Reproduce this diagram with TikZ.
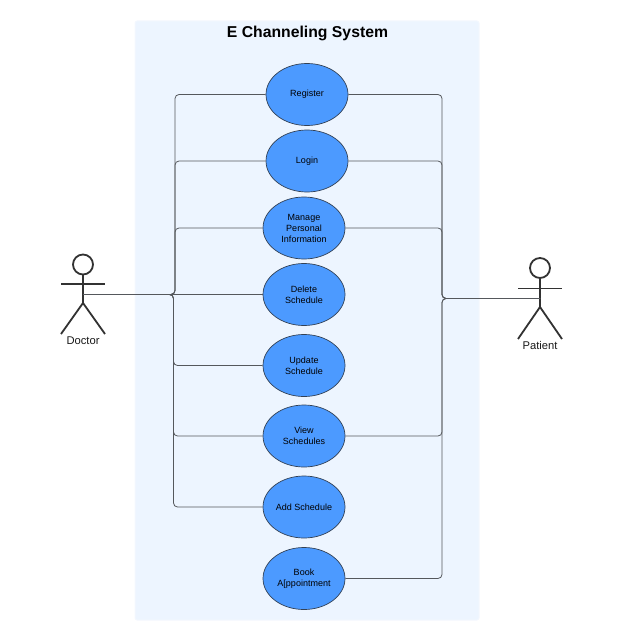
\documentclass[tikz,border=0pt]{standalone}
\usepackage{xcolor}
\usepackage{fontspec}
\usetikzlibrary{shapes.geometric}
\setmainfont{Liberation Sans}
\definecolor{panelblue}{RGB}{237,245,255}
\definecolor{paneledge}{RGB}{244,248,254}
\definecolor{caseblue}{RGB}{76,154,255}
\definecolor{caseedge}{RGB}{50,65,85}
\definecolor{linkgray}{RGB}{85,88,92}
\definecolor{stickgray}{RGB}{50,50,50}

\begin{document}
\begin{tikzpicture}[
    x=1pt, y=-1pt,
    every node/.style={font=\fontsize{9}{11}\selectfont},
    usecase/.style={draw=caseedge, fill=caseblue, ellipse, line width=0.7pt, inner sep=0pt, minimum width=82pt, minimum height=62pt, align=center},
    link/.style={draw=linkgray, line width=0.8pt, rounded corners=4pt},
    stick/.style={draw=stickgray, line width=1.8pt},
    actorname/.style={font=\fontsize{11.2}{13}\selectfont, text=black!90}
]
\useasboundingbox (0,0) rectangle (624,642);
\fill[panelblue, draw=paneledge, line width=1pt, rounded corners=2pt] (135,21) rectangle (479,620);
\node[font=\fontsize{15.75}{18}\selectfont\bfseries] (title) at (307.5,33) {E Channeling System};

\node[usecase] (register) at (307,94.5) {Register};
\node[usecase] (login) at (307,161) {Login};
\node[usecase] (manage) at (304,228) {Manage\\Personal\\Information};
\node[usecase] (delete) at (304,294.5) {Delete\\Schedule};
\node[usecase] (update) at (304,365.5) {Update\\Schedule};
\node[usecase] (view) at (304,436) {View\\Schedules};
\node[usecase] (add) at (304,507) {Add Schedule};
\node[usecase] (book) at (304,578.5) {Book\\A[ppointment};

% doctor
\node[stick, circle, minimum size=20pt, inner sep=0pt] (doctorhead) at (83,264.5) {};
\coordinate (doctorhip) at (83,303);
\coordinate (doctorhub) at (83,294.5);
\coordinate (doctorarml) at (61,284);
\coordinate (doctorarmr) at (105,284);
\coordinate (doctorfootl) at (61,334);
\coordinate (doctorfootr) at (105,334);
\draw[stick] (doctorhead) -- (doctorhip);
\draw[stick] (doctorarml) -- (doctorarmr);
\draw[stick] (doctorfootl) -- (doctorhip) -- (doctorfootr);
\node[actorname] (doctor) at (83,341) {Doctor};

% patient
\node[stick, circle, minimum size=20pt, inner sep=0pt] (patienthead) at (540,268) {};
\coordinate (patienthip) at (540,307);
\coordinate (patienthub) at (540,298.5);
\coordinate (patientarml) at (518,288.5);
\coordinate (patientarmr) at (562,288.5);
\coordinate (patientfootl) at (518,339);
\coordinate (patientfootr) at (562,339);
\draw[stick] (patienthead) -- (patienthip);
\draw[stick] (patientarml) -- (patientarmr);
\draw[stick] (patientfootl) -- (patienthip) -- (patientfootr);
\node[actorname] (patient) at (540,345) {Patient};

% doctor links
\coordinate (doctorup) at (175,294.5);
\coordinate (doctordown) at (173.5,294.5);
\draw[link] (doctorhub) -- (doctorup) |- (register);
\draw[link] (doctorhub) -- (doctorup) |- (login);
\draw[link] (doctorhub) -- (doctorup) |- (manage);
\draw[link] (doctorhub) -- (delete);
\draw[link] (doctorhub) -- (doctordown) |- (update);
\draw[link] (doctorhub) -- (doctordown) |- (view);
\draw[link] (doctorhub) -- (doctordown) |- (add);

% patient links
\coordinate (patienttrunk) at (442,298.5);
\draw[link] (patienthub) -- (patienttrunk) |- (register);
\draw[link] (patienthub) -- (patienttrunk) |- (login);
\draw[link] (patienthub) -- (patienttrunk) |- (manage);
\draw[link] (patienthub) -- (patienttrunk) |- (view);
\draw[link] (patienthub) -- (patienttrunk) |- (book);
\end{tikzpicture}
\end{document}
